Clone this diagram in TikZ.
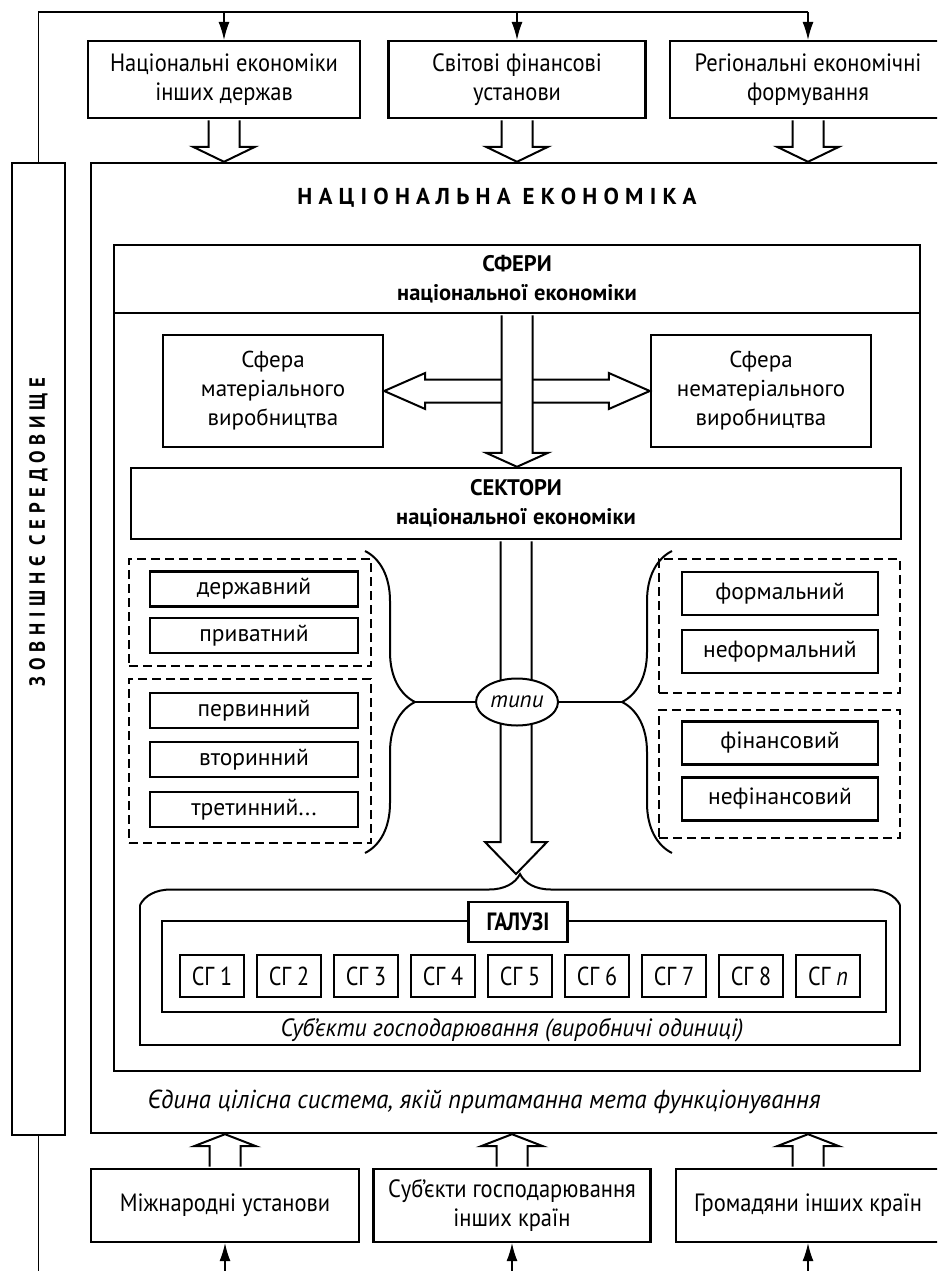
\documentclass[tikz,border=0pt]{standalone}
\usepackage{fontspec}
\setmainfont{PT Sans}
\newfontfamily\condfont[FakeStretch=0.9]{PT Sans}
\newfontfamily\unitfont[FakeStretch=0.85]{PT Sans}
\newfontfamily\capfont[FakeStretch=0.95]{PT Sans}
\newfontfamily\titlefont[LetterSpace=27]{PT Sans}
\newfontfamily\sidefont[LetterSpace=26,FakeStretch=0.85]{PT Sans}
\usetikzlibrary{positioning, calc, arrows.meta, shapes.geometric, decorations.pathreplacing}
\tikzset{
    outerbox/.style={rectangle, draw=black, line width=2.4pt, align=center, inner sep=0pt, font=\condfont\fontsize{25}{29}\selectfont},
    sphere/.style={rectangle, draw=black, line width=2.4pt, align=center, inner sep=0pt, minimum width=220pt, minimum height=112pt, font=\fontsize{23}{29}\selectfont},
    head/.style={rectangle, draw=black, line width=2.4pt, align=center, inner sep=0pt, font=\bfseries\fontsize{22.5}{29}\selectfont},
    kind/.style={rectangle, draw=black, line width=2.4pt, inner sep=0pt, minimum width=208pt, minimum height=35pt, font=\fontsize{23.5}{26}\selectfont},
    kindwide/.style={kind, minimum width=196pt, minimum height=43pt},
    group/.style={rectangle, draw=black, dash pattern=on 9pt off 5pt, line width=2.4pt},
    unit/.style={rectangle, draw=black, line width=2.4pt, inner sep=0pt, minimum width=64pt, minimum height=42pt, font=\unitfont\fontsize{26}{28}\selectfont},
    fat/.style={draw=black, fill=white, line width=2pt, line join=miter},
    link/.style={draw=black, line width=2pt},
    thinline/.style={draw=black, line width=1.1pt},
    thinarrow/.style={thinline, -{Latex[length=18pt,width=11pt]}},
    curly/.style={decorate, decoration={brace, amplitude=#1}, line width=2pt},
    caption/.style={font=\capfont\itshape\fontsize{#1}{29}\selectfont}
}
% hollow arrows between node borders
\newcommand{\fatdown}[3]{%
    \path[fat] let \p1=(#1), \p2=(#2) in
        (\x1-15.5pt,\y1-1.2pt) -- (\x1-15.5pt,\y2+#3) -- (\x1-31pt,\y2+#3) -- (\x1,\y2)
        -- (\x1+31pt,\y2+#3) -- (\x1+15.5pt,\y2+#3) -- (\x1+15.5pt,\y1-1.2pt);}
\newcommand{\fatup}[3]{%
    \path[fat] let \p1=(#1), \p2=(#2) in
        (\x1-15.5pt,\y1+1.2pt) -- (\x1-15.5pt,\y2-#3) -- (\x1-31pt,\y2-#3) -- (\x1,\y2)
        -- (\x1+31pt,\y2-#3) -- (\x1+15.5pt,\y2-#3) -- (\x1+15.5pt,\y1+1.2pt);}
\begin{document}
\begin{tikzpicture}[x=1pt, y=-1pt]
    \useasboundingbox (0,0) rectangle (937,1271);
    \clip (0,0) rectangle (937,1271);

    % Outer frame
    \node[outerbox, minimum width=53pt, minimum height=972pt] (outside) at (38.5,649) {};
    \node[rotate=90, font=\sidefont\bfseries\fontsize{22}{24}\selectfont] (outsidetext) at (38.5,532) {ЗОВНІШНЄ СЕРЕДОВИЩЕ};
    \node[outerbox, minimum width=869pt, minimum height=970pt] (econ) at (525.5,648) {};
    \node[font=\titlefont\bfseries\fontsize{23}{26}\selectfont] (econtitle) at (497,198) {НАЦІОНАЛЬНА ЕКОНОМІКА};

    % External actors
    \node[outerbox, minimum width=272pt, minimum height=77pt] (othernat) at (224,79.5) {Національні економіки\\інших держав};
    \node[outerbox, minimum width=257pt, minimum height=77pt] (worldfin) at (517,79.5) {Світові фінансові\\установи};
    \node[outerbox, minimum width=276pt, minimum height=77pt] (regform) at (808,79.5) {Регіональні економічні\\формування};
    \node[outerbox, minimum width=268pt, minimum height=73pt] (intinst) at (225,1205.5) {Міжнародні установи};
    \node[outerbox, minimum width=277pt, minimum height=73pt] (foreignfirms) at (512,1205.5) {Суб’єкти господарювання\\інших країн};
    \node[outerbox, minimum width=264pt, minimum height=73pt] (foreigncit) at (808,1205.5) {Громадяни інших країн};

    \coordinate (topline) at (0,12);
    \coordinate (bottomline) at (0,1271);
    \draw[thinline] (outside.north) |- (regform.north |- topline);
    \foreach \b in {othernat, worldfin, regform}
        \draw[thinarrow] (\b.north |- topline) -- (\b.north);
    \draw[thinline] (outside.south) -- (outside.south |- bottomline);
    \foreach \b in {intinst, foreignfirms, foreigncit}
        \draw[thinarrow] (\b.south |- bottomline) -- (\b.south);
    \foreach \b in {othernat, worldfin, regform}
        \fatdown{\b.south}{\b.south |- econ.north}{15pt};
    \foreach \b in {intinst, foreignfirms, foreigncit}
        \fatup{\b.north}{\b.north |- econ.south}{12pt};

    % Spheres
    \node[rectangle, draw=black, line width=2.4pt, minimum width=806pt, minimum height=758pt] (sferybody) at (517,692) {};
    \node[head, minimum width=806pt, minimum height=68pt] (sferyhead) at (517,279) {СФЕРИ\\національної економіки};
    \node[sphere] (matsph) at (273,391) {Сфера\\матеріального\\виробництва};
    \node[sphere] (nonmatsph) at (761,391) {Сфера\\нематеріального\\виробництва};
    \path[fat] let \p1=(matsph.east), \p2=(nonmatsph.west) in
        (\x1,\y1) -- (\x1+41pt,\y1+18pt) -- (\x1+41pt,\y1+11.5pt) -- (\x2-41pt,\y1+11.5pt)
        -- (\x2-41pt,\y1+18pt) -- (\x2,\y1) -- (\x2-41pt,\y1-18pt) -- (\x2-41pt,\y1-11.5pt)
        -- (\x1+41pt,\y1-11.5pt) -- (\x1+41pt,\y1-18pt) -- cycle;

    % Sectors
    \node[head, minimum width=770pt, minimum height=71pt] (sectors) at (516,503.5) {СЕКТОРИ\\національної економіки};
    \fatdown{sferyhead.south}{sferyhead.south |- sectors.north}{14pt};

    \node[group, minimum width=242pt, minimum height=107pt] (owngroup) at (250,612.5) {};
    \node[group, minimum width=242pt, minimum height=164pt] (levelgroup) at (250,761) {};
    \node[group, minimum width=241pt, minimum height=134pt] (formgroup) at (779.5,626) {};
    \node[group, minimum width=241pt, minimum height=128pt] (fingroup) at (779.5,774) {};
    \node[kind] (state) at (254,589) {державний};
    \node[kind] (private) at (254,635.5) {приватний};
    \node[kind] (primary) at (254,710.5) {первинний};
    \node[kind] (secondary) at (254,759.5) {вторинний};
    \node[kind] (tertiary) at (254,809.5) {третинний...};
    \node[kindwide] (formal) at (780,593.5) {формальний};
    \node[kindwide] (informal) at (780,651.5) {неформальний};
    \node[kindwide] (financial) at (780,743) {фінансовий};
    \node[kindwide] (nonfinancial) at (780,799) {нефінансовий};

    \draw[curly=50pt] (365,551) -- (365,853);
    \draw[curly=50pt] (672,853) -- (672,551);
    \coordinate (lefttip) at (415,702);
    \coordinate (righttip) at (622,702);

    % Branches
    \coordinate (unitsleft) at (140,905);
    \coordinate (unitsright) at (900,905);
    \coordinate (unitsbottom) at (0,1045);
    \coordinate (bracetip) at (520,874);
    \draw[curly=31pt] (unitsleft) -- (unitsright);
    \draw[link] (unitsleft) -- (unitsleft |- unitsbottom) -- (unitsright |- unitsbottom) -- (unitsright);
    \fatdown{sectors.south}{sectors.south |- bracetip}{32pt};

    \node[ellipse, draw=black, line width=2pt, fill=white, minimum width=82pt, minimum height=47pt, inner sep=0pt, font=\itshape\fontsize{23}{24}\selectfont] (types) at (517,702) {типи};
    \draw[link] (lefttip) -- (types.west);
    \draw[link] (types.east) -- (righttip);

    \node[rectangle, draw=black, line width=2pt, minimum width=724pt, minimum height=91pt] (branches) at (524,966.5) {};
    \node[unit, fill=white, minimum width=99pt, minimum height=40pt, font=\unitfont\bfseries\fontsize{25}{26}\selectfont] (branchlabel) at (518,922) {ГАЛУЗІ};
    \foreach \i/\t in {1/1, 2/2, 3/3, 4/4, 5/5, 6/6, 7/7, 8/8, 9/\textit{n}}
        \node[unit] (sg\i) at ({212+77*(\i-1)},976) {СГ \t};
    \node[caption=25] (unitscap) at (512,1030) {Суб’єкти господарювання (виробничі одиниці)};
    \node[caption=26] (econcap) at (484,1102) {Єдина цілісна система, якій притаманна мета функціонування};
\end{tikzpicture}
\end{document}
